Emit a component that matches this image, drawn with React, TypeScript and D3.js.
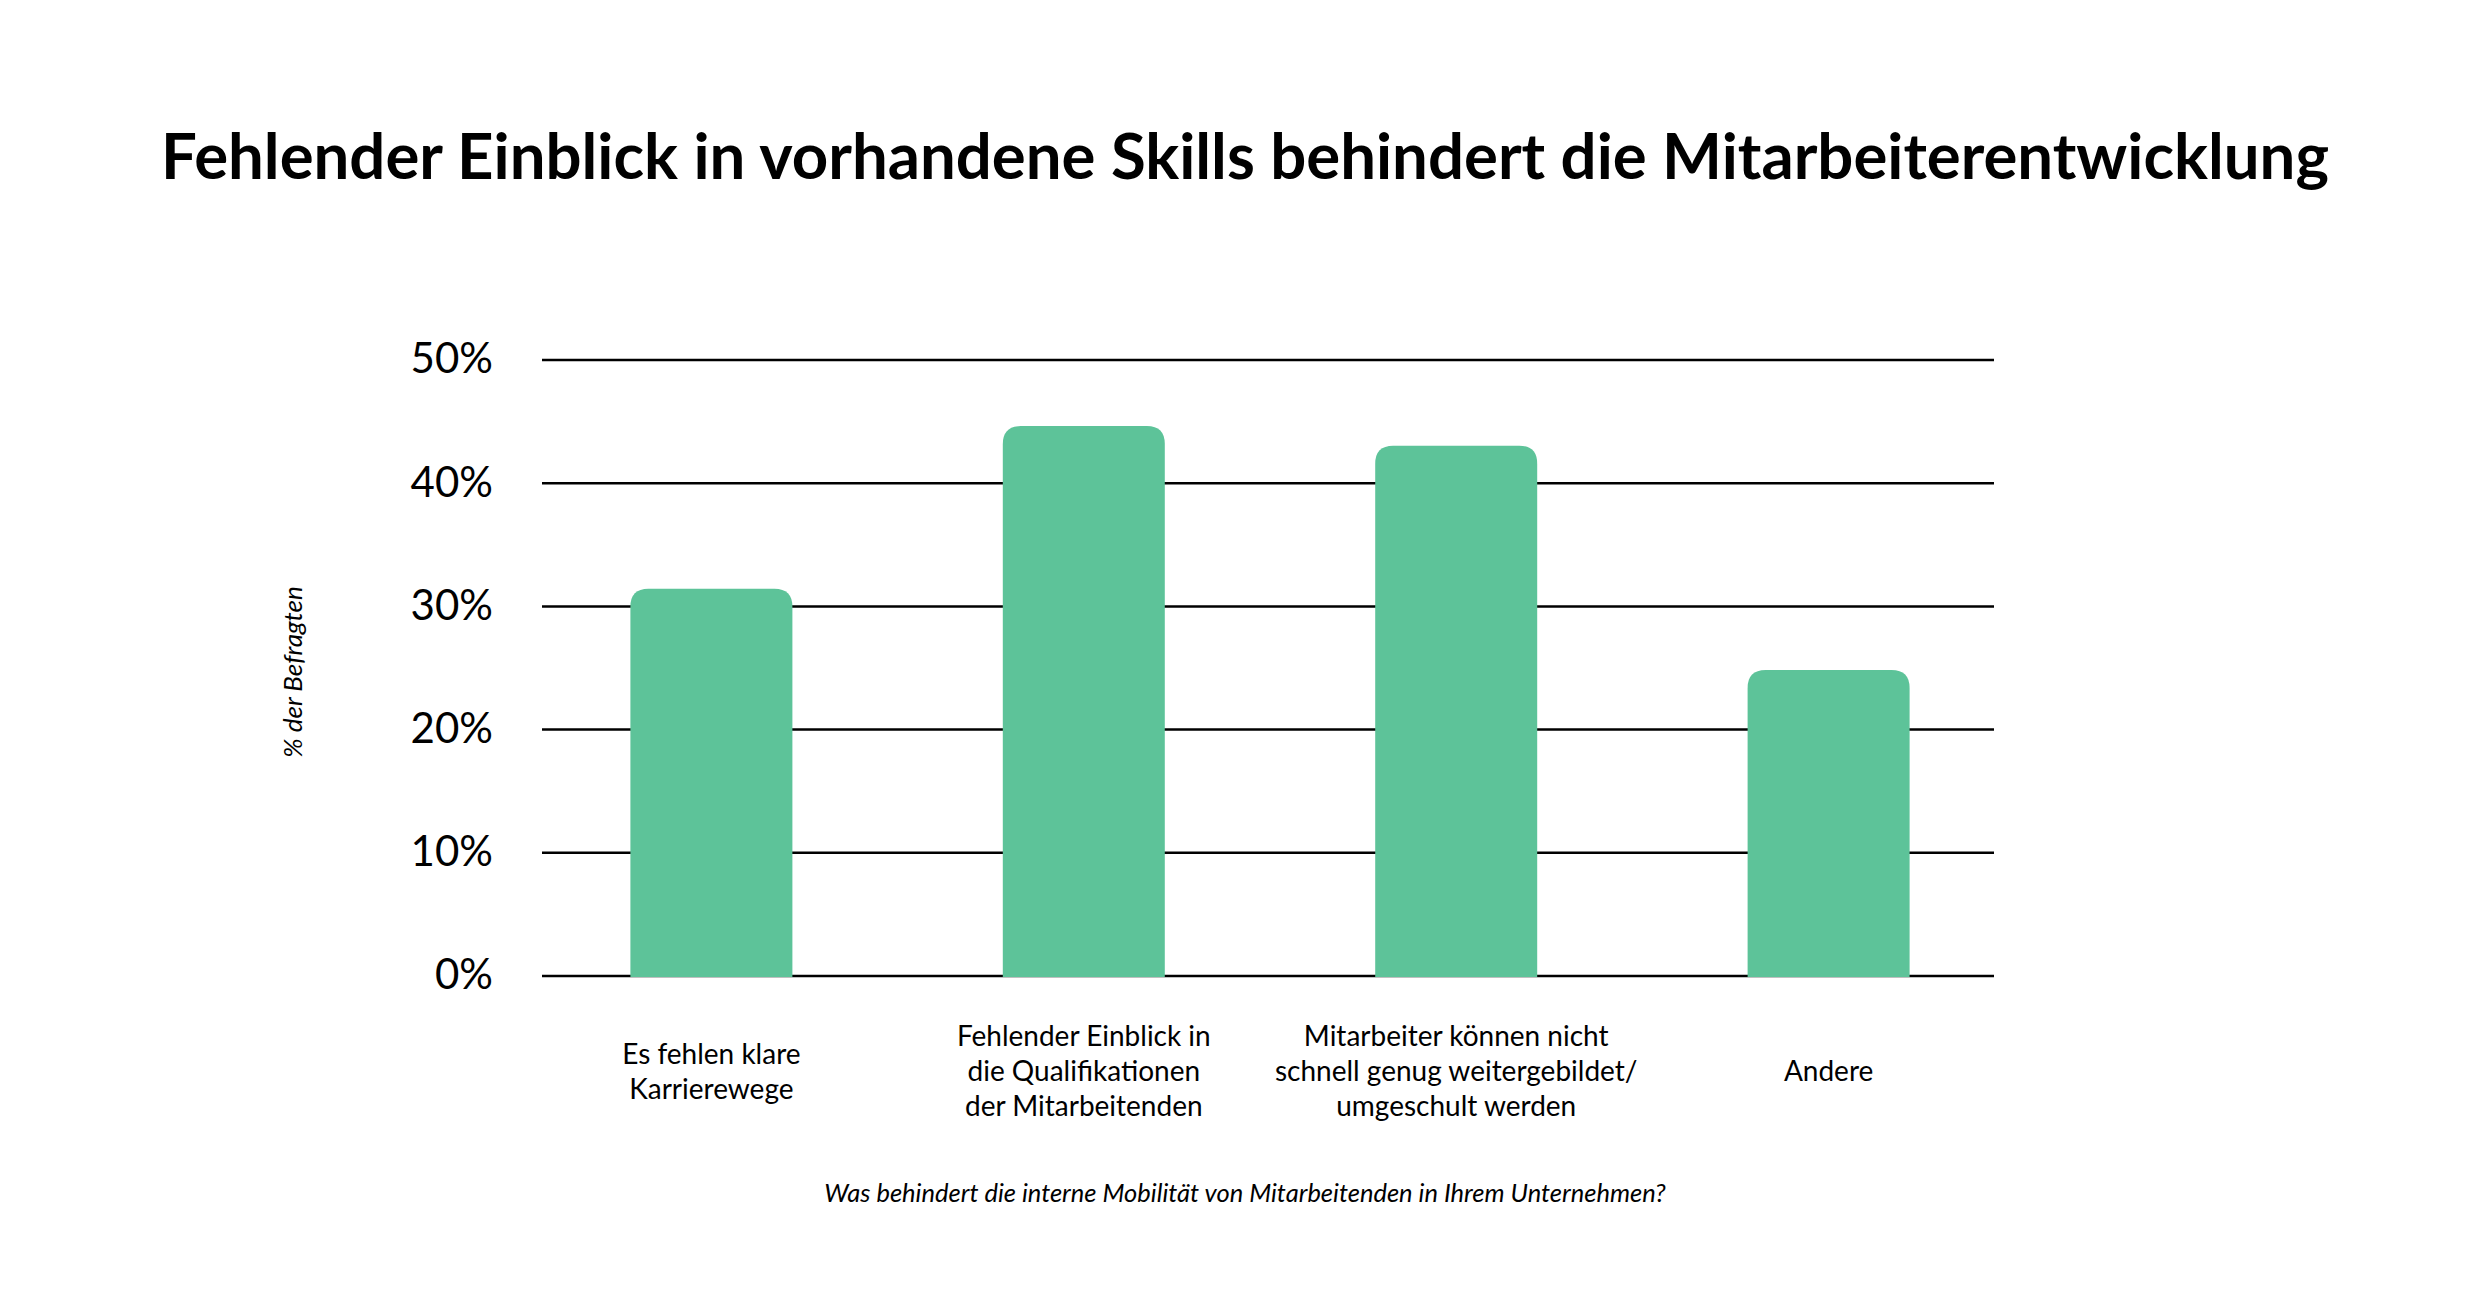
import { axisLeft, scaleBand, scaleLinear, select } from 'd3';
import React, { useEffect, useRef } from 'react';

const title = 'Fehlender Einblick in vorhandene Skills behindert die Mitarbeiterentwicklung';
const yTitle = '% der Befragten';
const footnote = 'Was behindert die interne Mobilität von Mitarbeitenden in Ihrem Unternehmen?';

const categories = ['Karrierewege', 'Einblick', 'Weiterbildung', 'Andere'];
const categoryLines = [
    ['Es fehlen klare', 'Karrierewege'],
    ['Fehlender Einblick in', 'die Qualifikationen', 'der Mitarbeitenden'],
    ['Mitarbeiter können nicht', 'schnell genug weitergebildet/', 'umgeschult werden'],
    ['Andere'],
];
const values = [31.4, 44.6, 43.0, 24.8];
const yTicks = [0, 10, 20, 30, 40, 50];

const font = 'Lato, "Open Sans", sans-serif';

// bar with rounded top corners only
const topRoundedBar = (x, y, w, h, r) => {
    const rr = Math.min(r, w / 2, h);
    return `M${x},${y + h}V${y + rr}Q${x},${y} ${x + rr},${y}H${x + w - rr}Q${x + w},${y} ${x + w},${y + rr}V${y + h}Z`;
};

function App() {
    const width = 2490;
    const height = 1301;
    const left = 542;
    const right = 1994;
    const top = 359.5;
    const bottom = 975.5;

    const svgRef = useRef(null);

    const Xscale = scaleBand()
        .domain(categories)
        .range([left + 2, right + 2])
        .paddingInner(0.565)
        .paddingOuter(0.232);

    const Yscale = scaleLinear()
        .domain([0, 50])
        .range([bottom, top]);

    useEffect(() => {
        document.body.style.margin = '0';
        const svg = select(svgRef.current);
        svg.selectAll('*').remove();

        svg.append('rect')
            .attr('width', width)
            .attr('height', height)
            .attr('fill', '#ffffff');

        // title
        svg.append('text')
            .attr('x', width / 2)
            .attr('y', 179)
            .attr('text-anchor', 'middle')
            .attr('font-family', font)
            .attr('font-weight', 700)
            .attr('font-size', 63.5)
            .attr('fill', '#000')
            .text(title);

        // y axis with gridlines
        const yAxis = axisLeft(Yscale)
            .tickValues(yTicks)
            .tickSize(-(right - left))
            .tickPadding(49)
            .tickFormat(d => `${d}%`);

        const yG = svg.append('g')
            .attr('class', 'y-axis')
            .attr('transform', `translate(${left}, 0)`)
            .call(yAxis);
        yG.select('.domain').remove();
        yG.selectAll('.tick line')
            .attr('stroke', '#000')
            .attr('stroke-width', 2.5);
        yG.selectAll('.tick text')
            .attr('font-family', font)
            .attr('font-size', 42)
            .attr('fill', '#000');

        // bars
        svg.append('g')
            .selectAll('path')
            .data(values)
            .join('path')
            .attr('fill', '#5dc399')
            .attr('d', (d, i) => {
                const x = Xscale(categories[i]);
                const y = Yscale(d);
                return topRoundedBar(x, y, Xscale.bandwidth(), Yscale(0) - y + 1.5, 18);
            });

        // category labels
        const lineH = 35;
        const labels = svg.append('g')
            .selectAll('text')
            .data(categoryLines)
            .join('text')
            .attr('text-anchor', 'middle')
            .attr('font-family', font)
            .attr('font-size', 28)
            .attr('fill', '#000')
            .attr('x', (d, i) => Xscale(categories[i]) + Xscale.bandwidth() / 2)
            .attr('y', d => 1081 - ((d.length - 1) * lineH) / 2);
        labels.selectAll('tspan')
            .data((d, i) => d.map(t => ({ t, x: Xscale(categories[i]) + Xscale.bandwidth() / 2 })))
            .join('tspan')
            .attr('x', d => d.x)
            .attr('dy', (d, j) => (j === 0 ? 0 : lineH))
            .text(d => d.t);

        // y title
        svg.append('text')
            .attr('transform', 'translate(302, 672) rotate(-90)')
            .attr('text-anchor', 'middle')
            .attr('font-family', font)
            .attr('font-style', 'italic')
            .attr('font-size', 26)
            .attr('fill', '#000')
            .text(yTitle);

        // footnote
        svg.append('text')
            .attr('x', 1245)
            .attr('y', 1202)
            .attr('text-anchor', 'middle')
            .attr('font-family', font)
            .attr('font-style', 'italic')
            .attr('font-size', 25.5)
            .attr('fill', '#000')
            .text(footnote);
    }, []);

    return (
        <svg ref={svgRef} width={width} height={height} style={{ display: 'block' }}></svg>
    );
}

export default App;
